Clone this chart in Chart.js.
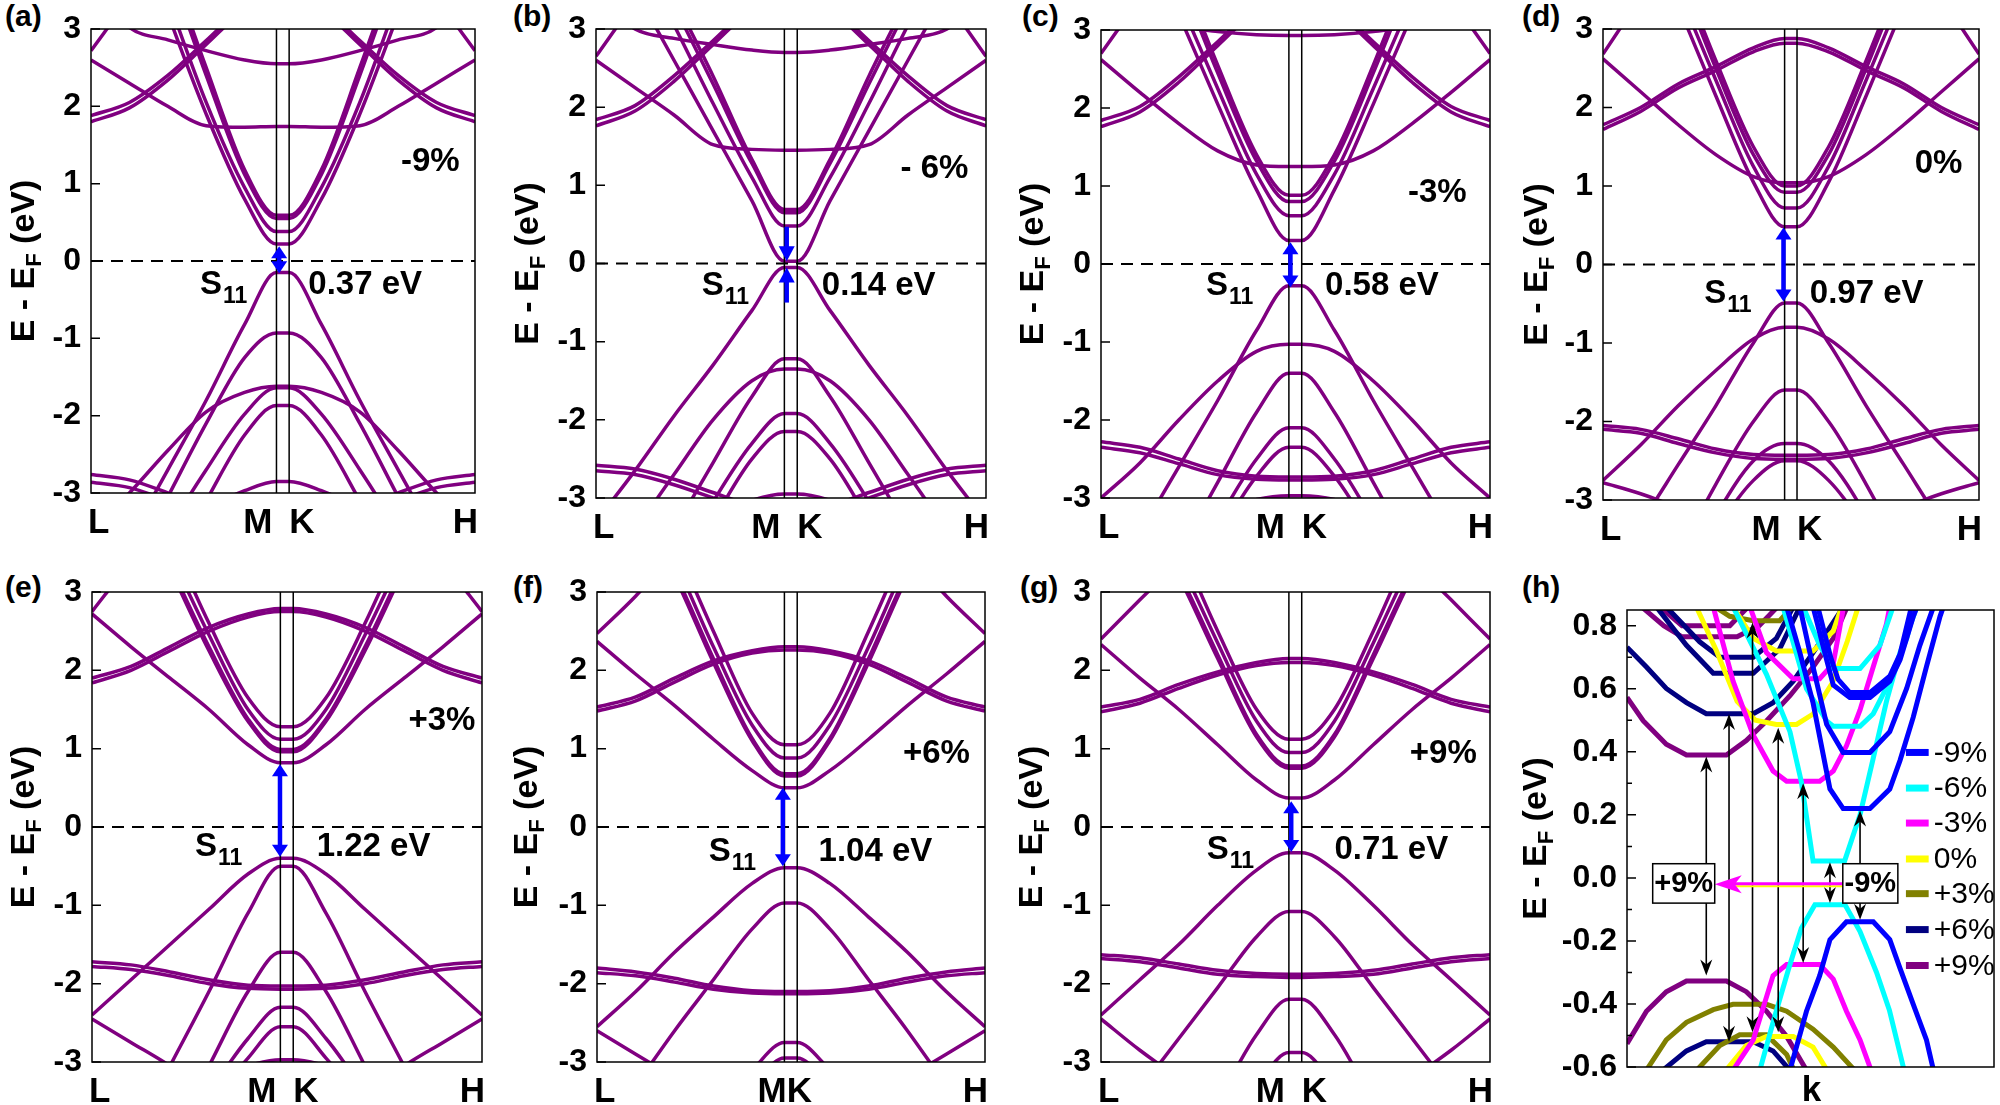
<!DOCTYPE html>
<html lang="en">
<head>
<meta charset="UTF-8">
<title>Band structures under strain</title>
<script src="https://cdn.jsdelivr.net/npm/chart.js@4.4.1/dist/chart.umd.min.js"></script>
<style>
  body { margin: 0; width: 2000px; height: 1105px; background: #fff; position: relative; overflow: hidden; }
  canvas { position: absolute; }
  .tag { position: absolute; font: bold 30px "Liberation Sans", Arial, sans-serif; line-height: 30px; color: #000; }
</style>
</head>
<body>
<div class="tag" style="left:5px;top:1px">(a)</div>
<div class="tag" style="left:513px;top:1px">(b)</div>
<div class="tag" style="left:1022px;top:1px">(c)</div>
<div class="tag" style="left:1522px;top:1px">(d)</div>
<div class="tag" style="left:5px;top:572px">(e)</div>
<div class="tag" style="left:513px;top:572px">(f)</div>
<div class="tag" style="left:1020px;top:572px">(g)</div>
<div class="tag" style="left:1522px;top:572px">(h)</div>

<script>
// ---- data ----
// k path L..M K..H as fractions, shared by the band panels
const kPts = [0, 0.1, 0.2, 0.3, 0.4, 0.483, 0.516, 0.6, 0.7, 0.8, 0.9, 1];
const kM = 0.483, kK = 0.516;
const yTicks = [-3, -2, -1, 0, 1, 2, 3];
const yTicksH = [-0.6, -0.4, -0.2, 0, 0.2, 0.4, 0.6, 0.8];
const strains = ['-9%', '- 6%', '-3%', '0%', '+3%', '+6%', '+9%'];
const gaps = ['0.37 eV', '0.14 eV', '0.58 eV', '0.97 eV', '1.22 eV', '1.04 eV', '0.71 eV'];

// band energies (eV) at kPts, one row per band
const bandsA = [
  [6.0, 4.6, 3.2, 1.9, 0.8, 0.22, 0.22, 0.8, 1.9, 3.2, 4.6, 6.0],
  [6.2, 4.8, 3.4, 2.05, 0.95, 0.38, 0.38, 0.95, 2.05, 3.4, 4.8, 6.2],
  [6.6, 5.2, 3.8, 2.4, 1.12, 0.55, 0.55, 1.12, 2.4, 3.8, 5.2, 6.6],
  [6.7, 5.3, 3.9, 2.5, 1.18, 0.59, 0.59, 1.18, 2.5, 3.9, 5.3, 6.7],
  [2.6, 2.3, 2.0, 1.75, 1.73, 1.74, 1.74, 1.73, 1.75, 2.0, 2.3, 2.6],
  [1.88, 2.05, 2.4, 2.85, 3.3, 3.5, 3.5, 3.3, 2.85, 2.4, 2.05, 1.88],
  [1.8, 1.98, 2.34, 2.8, 3.25, 3.45, 3.45, 3.25, 2.8, 2.34, 1.98, 1.8],
  [3.6, 3.02, 2.86, 2.72, 2.6, 2.55, 2.55, 2.6, 2.72, 2.86, 3.02, 3.6],
  [2.72, 3.4, 4.1, 4.8, 5.4, 5.6, 5.6, 5.4, 4.8, 4.1, 3.4, 2.72],
  [-4.5, -3.6, -2.7, -1.8, -0.82, -0.15, -0.15, -0.82, -1.8, -2.7, -3.6, -4.5],
  [-5.0, -4.0, -3.05, -2.1, -1.25, -0.93, -0.93, -1.25, -2.1, -3.05, -4.0, -5.0],
  [-3.5, -3.0, -2.45, -1.95, -1.7, -1.62, -1.62, -1.7, -1.95, -2.45, -3.0, -3.5],
  [-5.5, -4.5, -3.5, -2.7, -1.98, -1.64, -1.64, -1.98, -2.7, -3.5, -4.5, -5.5],
  [-6.0, -5.0, -4.0, -3.1, -2.25, -1.87, -1.87, -2.25, -3.1, -4.0, -5.0, -6.0],
  [-2.76, -2.83, -3.0, -3.2, -3.45, -3.55, -3.55, -3.45, -3.2, -3.0, -2.83, -2.76],
  [-2.86, -2.93, -3.1, -3.3, -3.55, -3.65, -3.65, -3.55, -3.3, -3.1, -2.93, -2.86],
  [-4.0, -3.8, -3.5, -3.2, -2.97, -2.85, -2.85, -2.97, -3.2, -3.5, -3.8, -4.0]
];
const bandsB = [
  [4.4, 3.5, 2.6, 1.7, 0.8, 0.03, 0.03, 0.8, 1.7, 2.6, 3.5, 4.4],
  [5.0, 4.0, 3.05, 2.05, 1.1, 0.48, 0.48, 1.1, 2.05, 3.05, 4.0, 5.0],
  [5.3, 4.3, 3.3, 2.3, 1.28, 0.65, 0.65, 1.28, 2.3, 3.3, 4.3, 5.3],
  [5.4, 4.4, 3.4, 2.4, 1.33, 0.69, 0.69, 1.33, 2.4, 3.4, 4.4, 5.4],
  [2.6, 2.25, 1.9, 1.52, 1.46, 1.45, 1.45, 1.46, 1.52, 1.9, 2.25, 2.6],
  [1.84, 2.02, 2.4, 2.85, 3.3, 3.5, 3.5, 3.3, 2.85, 2.4, 2.02, 1.84],
  [1.76, 1.95, 2.33, 2.8, 3.25, 3.45, 3.45, 3.25, 2.8, 2.33, 1.95, 1.76],
  [3.45, 3.0, 2.88, 2.8, 2.73, 2.7, 2.7, 2.73, 2.8, 2.88, 3.0, 3.45],
  [2.65, 3.35, 4.0, 4.7, 5.3, 5.5, 5.5, 5.3, 4.7, 4.0, 3.35, 2.65],
  [-3.3, -2.65, -1.95, -1.3, -0.6, -0.05, -0.05, -0.6, -1.3, -1.95, -2.65, -3.3],
  [-5.0, -4.2, -3.4, -2.55, -1.7, -1.22, -1.22, -1.7, -2.55, -3.4, -4.2, -5.0],
  [-4.0, -3.4, -2.7, -2.0, -1.5, -1.35, -1.35, -1.5, -2.0, -2.7, -3.4, -4.0],
  [-5.8, -4.9, -3.95, -3.05, -2.3, -1.92, -1.92, -2.3, -3.05, -3.95, -4.9, -5.8],
  [-6.0, -5.1, -4.2, -3.3, -2.5, -2.15, -2.15, -2.5, -3.3, -4.2, -5.1, -6.0],
  [-2.58, -2.63, -2.76, -2.93, -3.1, -3.2, -3.2, -3.1, -2.93, -2.76, -2.63, -2.58],
  [-2.65, -2.7, -2.83, -3.0, -3.18, -3.28, -3.28, -3.18, -3.0, -2.83, -2.7, -2.65],
  [-4.0, -3.8, -3.5, -3.25, -3.03, -2.95, -2.95, -3.03, -3.25, -3.5, -3.8, -4.0]
];
const bandsC = [
  [5.6, 4.4, 3.2, 2.05, 0.95, 0.3, 0.3, 0.95, 2.05, 3.2, 4.4, 5.6],
  [5.8, 4.6, 3.4, 2.25, 1.15, 0.62, 0.62, 1.15, 2.25, 3.4, 4.6, 5.8],
  [6.1, 4.9, 3.7, 2.45, 1.32, 0.8, 0.8, 1.32, 2.45, 3.7, 4.9, 6.1],
  [6.2, 5.0, 3.8, 2.55, 1.4, 0.88, 0.88, 1.4, 2.55, 3.8, 5.0, 6.2],
  [2.62, 2.2, 1.8, 1.45, 1.27, 1.25, 1.25, 1.27, 1.45, 1.8, 2.2, 2.62],
  [1.84, 2.02, 2.4, 2.85, 3.3, 3.5, 3.5, 3.3, 2.85, 2.4, 2.02, 1.84],
  [1.76, 1.95, 2.33, 2.8, 3.25, 3.45, 3.45, 3.25, 2.8, 2.33, 1.95, 1.76],
  [3.5, 3.2, 3.05, 2.98, 2.94, 2.93, 2.93, 2.94, 2.98, 3.05, 3.2, 3.5],
  [2.7, 3.4, 4.1, 4.8, 5.4, 5.6, 5.6, 5.4, 4.8, 4.1, 3.4, 2.7],
  [-4.3, -3.45, -2.6, -1.75, -0.85, -0.28, -0.28, -0.85, -1.75, -2.6, -3.45, -4.3],
  [-3.0, -2.55, -2.0, -1.5, -1.12, -1.03, -1.03, -1.12, -1.5, -2.0, -2.55, -3.0],
  [-5.5, -4.6, -3.7, -2.8, -1.9, -1.4, -1.4, -1.9, -2.8, -3.7, -4.6, -5.5],
  [-6.0, -5.0, -4.2, -3.3, -2.5, -2.1, -2.1, -2.5, -3.3, -4.2, -5.0, -6.0],
  [-6.0, -5.2, -4.4, -3.5, -2.72, -2.35, -2.35, -2.72, -3.5, -4.4, -5.2, -6.0],
  [-2.28, -2.35, -2.5, -2.65, -2.72, -2.73, -2.73, -2.72, -2.65, -2.5, -2.35, -2.28],
  [-2.35, -2.42, -2.56, -2.7, -2.76, -2.77, -2.77, -2.76, -2.7, -2.56, -2.42, -2.35],
  [-4.0, -3.7, -3.4, -3.2, -3.02, -2.97, -2.97, -3.02, -3.2, -3.4, -3.7, -4.0]
];
const bandsD = [
  [5.6, 4.4, 3.3, 2.15, 1.05, 0.48, 0.48, 1.05, 2.15, 3.3, 4.4, 5.6],
  [5.8, 4.6, 3.5, 2.35, 1.25, 0.72, 0.72, 1.25, 2.35, 3.5, 4.6, 5.8],
  [6.0, 4.8, 3.7, 2.5, 1.4, 0.92, 0.92, 1.4, 2.5, 3.7, 4.8, 6.0],
  [6.1, 4.9, 3.8, 2.6, 1.5, 1.0, 1.0, 1.5, 2.6, 3.8, 4.9, 6.1],
  [2.62, 2.2, 1.78, 1.4, 1.12, 1.04, 1.04, 1.12, 1.4, 1.78, 2.2, 2.62],
  [1.78, 2.0, 2.3, 2.52, 2.76, 2.88, 2.88, 2.76, 2.52, 2.3, 2.0, 1.78],
  [1.72, 1.95, 2.25, 2.47, 2.71, 2.82, 2.82, 2.71, 2.47, 2.25, 1.95, 1.72],
  [2.68, 3.4, 4.1, 4.8, 5.4, 5.6, 5.6, 5.4, 4.8, 4.1, 3.4, 2.68],
  [-4.0, -3.3, -2.55, -1.8, -1.0, -0.49, -0.49, -1.0, -1.8, -2.55, -3.3, -4.0],
  [-2.75, -2.3, -1.8, -1.35, -0.95, -0.8, -0.8, -0.95, -1.35, -1.8, -2.3, -2.75],
  [-5.5, -4.6, -3.7, -2.8, -2.0, -1.6, -1.6, -2.0, -2.8, -3.7, -4.6, -5.5],
  [-2.05, -2.1, -2.22, -2.35, -2.42, -2.43, -2.43, -2.42, -2.35, -2.22, -2.1, -2.05],
  [-2.1, -2.15, -2.28, -2.4, -2.47, -2.48, -2.48, -2.47, -2.4, -2.28, -2.15, -2.1],
  [-6.0, -5.0, -4.1, -3.2, -2.5, -2.28, -2.28, -2.5, -3.2, -4.1, -5.0, -6.0],
  [-6.0, -5.2, -4.3, -3.4, -2.75, -2.5, -2.5, -2.75, -3.4, -4.3, -5.2, -6.0],
  [-2.78, -2.92, -3.1, -3.3, -3.5, -3.6, -3.6, -3.5, -3.3, -3.1, -2.92, -2.78]
];
const bandsE = [
  [2.72, 2.3, 1.9, 1.5, 1.05, 0.82, 0.82, 1.05, 1.5, 1.9, 2.3, 2.72],
  [5.5, 4.4, 3.3, 2.25, 1.35, 0.96, 0.96, 1.35, 2.25, 3.3, 4.4, 5.5],
  [5.55, 4.45, 3.35, 2.3, 1.38, 0.99, 0.99, 1.38, 2.3, 3.35, 4.45, 5.55],
  [5.7, 4.6, 3.5, 2.45, 1.5, 1.12, 1.12, 1.5, 2.45, 3.5, 4.6, 5.7],
  [5.9, 4.8, 3.7, 2.6, 1.65, 1.28, 1.28, 1.65, 2.6, 3.7, 4.8, 5.9],
  [1.9, 2.05, 2.3, 2.55, 2.72, 2.79, 2.79, 2.72, 2.55, 2.3, 2.05, 1.9],
  [1.84, 2.0, 2.25, 2.5, 2.68, 2.75, 2.75, 2.68, 2.5, 2.25, 2.0, 1.84],
  [2.75, 3.4, 4.1, 4.8, 5.4, 5.6, 5.6, 5.4, 4.8, 4.1, 3.4, 2.75],
  [-2.4, -1.95, -1.5, -1.05, -0.6, -0.4, -0.4, -0.6, -1.05, -1.5, -1.95, -2.4],
  [-5.0, -4.0, -3.05, -2.1, -1.1, -0.5, -0.5, -1.1, -2.1, -3.05, -4.0, -5.0],
  [-6.0, -5.0, -4.0, -3.05, -2.1, -1.6, -1.6, -2.1, -3.05, -4.0, -5.0, -6.0],
  [-1.72, -1.76, -1.85, -1.95, -2.02, -2.03, -2.03, -2.02, -1.95, -1.85, -1.76, -1.72],
  [-1.78, -1.82, -1.9, -2.0, -2.06, -2.07, -2.07, -2.06, -2.0, -1.9, -1.82, -1.78],
  [-6.0, -5.0, -4.2, -3.4, -2.7, -2.3, -2.3, -2.7, -3.4, -4.2, -5.0, -6.0],
  [-6.0, -5.2, -4.4, -3.6, -2.95, -2.55, -2.55, -2.95, -3.6, -4.4, -5.2, -6.0],
  [-2.45, -2.75, -3.05, -3.4, -3.7, -3.8, -3.8, -3.7, -3.4, -3.05, -2.75, -2.45],
  [-4.0, -3.8, -3.5, -3.25, -3.05, -2.97, -2.97, -3.05, -3.25, -3.5, -3.8, -4.0]
];
const bandsF = [
  [2.37, 1.95, 1.55, 1.12, 0.72, 0.5, 0.5, 0.72, 1.12, 1.55, 1.95, 2.37],
  [5.0, 4.1, 3.2, 2.1, 1.1, 0.65, 0.65, 1.1, 2.1, 3.2, 4.1, 5.0],
  [5.05, 4.15, 3.25, 2.15, 1.13, 0.68, 0.68, 1.13, 2.15, 3.25, 4.15, 5.05],
  [5.2, 4.3, 3.4, 2.3, 1.3, 0.88, 0.88, 1.3, 2.3, 3.4, 4.3, 5.2],
  [5.4, 4.5, 3.6, 2.5, 1.45, 1.05, 1.05, 1.45, 2.5, 3.6, 4.5, 5.4],
  [1.53, 1.66, 1.9, 2.12, 2.25, 2.3, 2.3, 2.25, 2.12, 1.9, 1.66, 1.53],
  [1.48, 1.61, 1.85, 2.08, 2.22, 2.26, 2.26, 2.22, 2.08, 1.85, 1.61, 1.48],
  [2.47, 2.95, 3.5, 4.1, 4.7, 4.9, 4.9, 4.7, 4.1, 3.5, 2.95, 2.47],
  [-2.55, -2.1, -1.6, -1.15, -0.72, -0.52, -0.52, -0.72, -1.15, -1.6, -2.1, -2.55],
  [-4.0, -3.3, -2.6, -1.95, -1.3, -0.97, -0.97, -1.3, -1.95, -2.6, -3.3, -4.0],
  [-1.8, -1.85, -1.93, -2.03, -2.09, -2.1, -2.1, -2.09, -2.03, -1.93, -1.85, -1.8],
  [-1.86, -1.9, -1.98, -2.07, -2.12, -2.13, -2.13, -2.12, -2.07, -1.98, -1.9, -1.86],
  [-6.0, -5.0, -4.2, -3.6, -3.1, -2.75, -2.75, -3.1, -3.6, -4.2, -5.0, -6.0],
  [-6.0, -5.5, -4.5, -3.8, -3.3, -2.95, -2.95, -3.3, -3.8, -4.5, -5.5, -6.0],
  [-2.6, -2.9, -3.2, -3.5, -3.8, -3.9, -3.9, -3.8, -3.5, -3.2, -2.9, -2.6]
];
const bandsG = [
  [2.33, 1.9, 1.5, 1.05, 0.6, 0.37, 0.37, 0.6, 1.05, 1.5, 1.9, 2.33],
  [5.0, 4.1, 3.2, 2.15, 1.15, 0.75, 0.75, 1.15, 2.15, 3.2, 4.1, 5.0],
  [5.05, 4.15, 3.25, 2.2, 1.18, 0.78, 0.78, 1.18, 2.2, 3.25, 4.15, 5.05],
  [5.2, 4.3, 3.4, 2.35, 1.35, 0.95, 0.95, 1.35, 2.35, 3.4, 4.3, 5.2],
  [5.4, 4.5, 3.6, 2.5, 1.5, 1.12, 1.12, 1.5, 2.5, 3.6, 4.5, 5.4],
  [1.53, 1.63, 1.82, 1.98, 2.1, 2.15, 2.15, 2.1, 1.98, 1.82, 1.63, 1.53],
  [1.47, 1.58, 1.77, 1.94, 2.06, 2.1, 2.1, 2.06, 1.94, 1.77, 1.58, 1.47],
  [2.4, 2.9, 3.4, 4.0, 4.6, 4.8, 4.8, 4.6, 4.0, 3.4, 2.9, 2.4],
  [-2.4, -1.95, -1.5, -1.0, -0.55, -0.33, -0.33, -0.55, -1.0, -1.5, -1.95, -2.4],
  [-4.0, -3.35, -2.7, -2.05, -1.4, -1.08, -1.08, -1.4, -2.05, -2.7, -3.35, -4.0],
  [-1.63, -1.67, -1.75, -1.83, -1.87, -1.88, -1.88, -1.87, -1.83, -1.75, -1.67, -1.63],
  [-1.68, -1.72, -1.8, -1.88, -1.91, -1.92, -1.92, -1.91, -1.88, -1.8, -1.72, -1.68],
  [-6.0, -5.0, -4.3, -3.5, -2.65, -2.2, -2.2, -2.65, -3.5, -4.3, -5.0, -6.0],
  [-6.0, -5.5, -4.6, -3.9, -3.3, -2.88, -2.88, -3.3, -3.9, -4.6, -5.5, -6.0],
  [-2.45, -2.85, -3.2, -3.5, -3.8, -3.9, -3.9, -3.8, -3.5, -3.2, -2.85, -2.45]
];

// panel (h): band edges near the gap, [k, E] points, one list per curve
const hM9 = [
  [[0.435,0.86],[0.471,0.715],[0.507,0.555],[0.553,0.282],[0.589,0.22],[0.662,0.22],[0.716,0.282],[0.744,0.373],[0.78,0.51],[0.816,0.67],[0.853,0.83],[0.862,0.86]],
  [[0.471,0.86],[0.507,0.669],[0.544,0.487],[0.589,0.398],[0.662,0.398],[0.716,0.464],[0.762,0.601],[0.798,0.738],[0.835,0.86]],
  [[0.507,0.86],[0.544,0.692],[0.562,0.612],[0.607,0.572],[0.662,0.572],[0.716,0.624],[0.744,0.692],[0.78,0.829],[0.79,0.86]],
  [[0.52,0.86],[0.555,0.7],[0.575,0.63],[0.607,0.588],[0.662,0.588],[0.716,0.64],[0.744,0.71],[0.775,0.86]],
  [[0.444,-0.61],[0.489,-0.423],[0.525,-0.31],[0.553,-0.196],[0.598,-0.139],[0.671,-0.139],[0.716,-0.196],[0.744,-0.287],[0.78,-0.401],[0.816,-0.514],[0.835,-0.61]]
];
const hM6 = [
  [[0.289,0.86],[0.38,0.646],[0.444,0.464],[0.475,0.305],[0.507,0.054],[0.593,0.054],[0.635,0.2],[0.671,0.38],[0.707,0.56],[0.744,0.715],[0.79,0.86]],
  [[0.425,0.86],[0.489,0.6],[0.544,0.498],[0.562,0.481],[0.635,0.481],[0.671,0.521],[0.716,0.624],[0.762,0.76],[0.785,0.86]],
  [[0.48,0.86],[0.525,0.738],[0.562,0.664],[0.635,0.664],[0.689,0.738],[0.725,0.86]],
  [[0.362,-0.61],[0.4,-0.45],[0.44,-0.29],[0.475,-0.16],[0.512,-0.085],[0.594,-0.085],[0.635,-0.17],[0.68,-0.3],[0.715,-0.42],[0.755,-0.61]]
];
const hM3 = [
  [[0.235,0.86],[0.289,0.624],[0.344,0.453],[0.398,0.339],[0.435,0.307],[0.525,0.307],[0.562,0.339],[0.598,0.419],[0.635,0.533],[0.671,0.67],[0.707,0.806],[0.716,0.86]],
  [[0.335,0.86],[0.38,0.715],[0.453,0.632],[0.525,0.632],[0.562,0.68],[0.59,0.86]],
  [[0.289,-0.61],[0.344,-0.514],[0.398,-0.31],[0.435,-0.275],[0.525,-0.275],[0.562,-0.321],[0.598,-0.423],[0.635,-0.514],[0.665,-0.61]]
];
const hZero = [
  [[0.189,0.86],[0.244,0.72],[0.3,0.56],[0.35,0.5],[0.407,0.487],[0.462,0.487],[0.507,0.52],[0.56,0.62],[0.6,0.75],[0.63,0.86]],
  [[0.289,0.86],[0.344,0.76],[0.407,0.72],[0.507,0.72],[0.562,0.783],[0.585,0.86]],
  [[0.27,-0.61],[0.325,-0.532],[0.38,-0.503],[0.453,-0.503],[0.507,-0.537],[0.545,-0.61]]
];
const hP3 = [
  [[0.24,0.86],[0.28,0.83],[0.344,0.816],[0.416,0.816],[0.45,0.86]],
  [[0.053,-0.61],[0.107,-0.514],[0.162,-0.458],[0.235,-0.418],[0.289,-0.401],[0.38,-0.401],[0.435,-0.423],[0.507,-0.48],[0.562,-0.537],[0.62,-0.61]],
  [[0.19,-0.61],[0.253,-0.532],[0.307,-0.498],[0.38,-0.498],[0.435,-0.56],[0.455,-0.61]]
];
const hP6 = [
  [[0,0.732],[0.053,0.669],[0.107,0.601],[0.162,0.556],[0.216,0.521],[0.344,0.521],[0.398,0.556],[0.453,0.624],[0.507,0.715],[0.562,0.811],[0.59,0.86]],
  [[0.08,0.86],[0.162,0.738],[0.235,0.649],[0.344,0.649],[0.416,0.726],[0.471,0.86]],
  [[0.107,0.86],[0.198,0.749],[0.253,0.7],[0.344,0.7],[0.407,0.76],[0.453,0.86]],
  [[0.098,-0.61],[0.162,-0.549],[0.216,-0.52],[0.344,-0.52],[0.398,-0.549],[0.444,-0.61]]
];
const hP9 = [
  [[0,0.573],[0.044,0.499],[0.107,0.424],[0.162,0.39],[0.271,0.39],[0.325,0.436],[0.38,0.498],[0.444,0.578],[0.507,0.669],[0.562,0.76],[0.6,0.86]],
  [[0.04,0.86],[0.1,0.8],[0.15,0.765],[0.3,0.765],[0.36,0.8],[0.41,0.86]],
  [[0.09,0.86],[0.15,0.8],[0.28,0.8],[0.33,0.86]],
  [[0,-0.526],[0.053,-0.423],[0.107,-0.361],[0.162,-0.327],[0.271,-0.327],[0.325,-0.361],[0.38,-0.423],[0.435,-0.503],[0.489,-0.61]]
];
const hSeries = [hM9, hM6, hM3, hZero, hP3, hP6, hP9];
const hLabels = ['-9%', '-6%', '-3%', '0%', '+3%', '+6%', '+9%'];
const hColors = ['#0000ff', '#00ffff', '#ff00ff', '#ffff00', '#808000', '#000080', '#800080'];
// gap arrows in (h): [k, VB edge, CB edge]
const hGaps = [[0.216,-0.31,0.385],[0.278,-0.52,0.52],[0.342,-0.49,0.81],[0.412,-0.49,0.476],[0.48,-0.27,0.30],[0.553,-0.08,0.05],[0.635,-0.133,0.214]];

// ---- drawing ----
const FF = '"Liberation Sans", Arial, sans-serif';
const PURPLE = '#800080';
const specs = new WeakMap();

function drawTitle(ctx, cx, cy) {
  ctx.save();
  ctx.translate(cx, cy);
  ctx.rotate(-Math.PI / 2);
  const f1 = 'bold 34px ' + FF, f2 = 'bold 22px ' + FF;
  ctx.font = f1;
  const w1 = ctx.measureText('E - E').width, w3 = ctx.measureText(' (eV)').width;
  ctx.font = f2;
  const w2 = ctx.measureText('F').width;
  let x = -(w1 + w2 + w3) / 2;
  ctx.textAlign = 'left'; ctx.textBaseline = 'alphabetic'; ctx.fillStyle = '#000';
  ctx.font = f1; ctx.fillText('E - E', x, 12); x += w1;
  ctx.font = f2; ctx.fillText('F', x, 19); x += w2;
  ctx.font = f1; ctx.fillText(' (eV)', x, 12);
  ctx.restore();
}

function head(ctx, x, tip, dir, w, l, notch) { // dir -1 points up, +1 points down
  ctx.beginPath();
  ctx.moveTo(x, tip);
  ctx.lineTo(x - w, tip - dir * l);
  ctx.lineTo(x, tip - dir * (l - notch));
  ctx.lineTo(x + w, tip - dir * l);
  ctx.closePath();
  ctx.fill();
}

function seg(ctx, x1, y1, x2, y2) {
  ctx.beginPath(); ctx.moveTo(x1, y1); ctx.lineTo(x2, y2); ctx.stroke();
}

function drawBandDeco(ctx, p, X, Y, A) {
  ctx.fillStyle = '#0000ff'; ctx.strokeStyle = '#0000ff'; ctx.lineWidth = 4.5;
  if (p.arrow) {
    const [ax, lo, hi] = p.arrow, x = X(ax);
    seg(ctx, x, Y(hi) + 8, x, Y(lo) - 8);
    head(ctx, x, Y(hi), -1, 8, 12, 0);
    head(ctx, x, Y(lo), 1, 8, 12, 0);
  }
  if (p.split) {
    const [ax, t1, h1, t2, h2] = p.split, x = X(ax);
    seg(ctx, x, Y(t1), x, Y(h1) - 10);
    head(ctx, x, Y(h1), 1, 8, 15, 0);
    seg(ctx, x, Y(t2), x, Y(h2) + 10);
    head(ctx, x, Y(h2), -1, 8, 15, 0);
  }
  ctx.fillStyle = '#000';
  ctx.textBaseline = 'alphabetic';
  ctx.textAlign = 'left';
  ctx.font = 'bold 33px ' + FF;
  const sx = X(p.sAt[0]), sy = Y(p.sAt[1]);
  ctx.fillText('S', sx, sy);
  const ws = ctx.measureText('S').width;
  ctx.font = 'bold 23px ' + FF;
  ctx.fillText('11', sx + ws + 1, sy + 9);
  ctx.font = 'bold 33px ' + FF;
  ctx.fillText(p.gap, X(p.gapX), sy);
  ctx.textAlign = 'right';
  ctx.fillText(p.strain, X(p.tagAt[0]), Y(p.tagAt[1]));
  // k-point labels
  ctx.font = 'bold 35px ' + FF;
  const by = A.bottom + 40;
  ctx.textAlign = 'left'; ctx.fillText('L', A.left - 3, by);
  ctx.textAlign = 'right'; ctx.fillText('H', A.right + 3, by);
  if (p.mk) {
    ctx.textAlign = 'center'; ctx.fillText('MK', (X(kM) + X(kK)) / 2 - 6, by);
  } else {
    ctx.textAlign = 'right'; ctx.fillText('M', X(kM) - 4, by);
    ctx.textAlign = 'left'; ctx.fillText('K', X(kK), by);
  }
}

function drawCompareDeco(ctx, p, X, Y, A) {
  // gap arrows
  ctx.strokeStyle = '#000'; ctx.fillStyle = '#000'; ctx.lineWidth = 1.6;
  hGaps.forEach(([k, lo, hi]) => {
    const x = X(k);
    seg(ctx, x, Y(hi) + 8, x, Y(lo) - 8);
    head(ctx, x, Y(hi), -1, 6, 16, 5);
    head(ctx, x, Y(lo), 1, 6, 16, 5);
  });
  // magenta arrow from -9% box to +9% box
  const ay = Y(-0.02), x1 = X(0.588), x2 = X(0.239);
  ctx.strokeStyle = '#ffff00'; ctx.lineWidth = 2;
  seg(ctx, x1, ay + 2, x2 + 20, ay + 2);
  ctx.strokeStyle = '#ff00ff'; ctx.lineWidth = 3;
  seg(ctx, x1, ay - 0.5, x2 + 18, ay - 0.5);
  ctx.fillStyle = '#ff00ff';
  ctx.beginPath();
  ctx.moveTo(x2, ay); ctx.lineTo(x2 + 27, ay - 9); ctx.lineTo(x2 + 20, ay); ctx.lineTo(x2 + 27, ay + 9);
  ctx.closePath(); ctx.fill();
  // boxes
  [['+9%', 0.07, 0.239], ['-9%', 0.588, 0.738]].forEach(([t, k1, k2]) => {
    const bx = X(k1), bw = X(k2) - X(k1), byT = Y(0.045), bh = Y(-0.08) - Y(0.045);
    ctx.fillStyle = '#fff'; ctx.fillRect(bx, byT, bw, bh);
    ctx.strokeStyle = '#000'; ctx.lineWidth = 1.5; ctx.strokeRect(bx, byT, bw, bh);
    ctx.fillStyle = '#000'; ctx.font = 'bold 29px ' + FF;
    ctx.textAlign = 'center'; ctx.textBaseline = 'middle';
    ctx.fillText(t, bx + bw / 2, byT + bh / 2 + 1);
  });
  // legend
  const legE = [0.398, 0.285, 0.174, 0.06, -0.05, -0.164, -0.278];
  ctx.font = '30px ' + FF; ctx.textAlign = 'left'; ctx.textBaseline = 'middle';
  hLabels.forEach((t, i) => {
    const y = Y(legE[i]);
    ctx.strokeStyle = hColors[i]; ctx.lineWidth = 7;
    seg(ctx, X(0.76), y, X(0.822), y);
    ctx.fillStyle = '#000';
    ctx.fillText(t, X(0.836), y + 1);
  });
  ctx.font = 'bold 35px ' + FF; ctx.textAlign = 'center'; ctx.textBaseline = 'alphabetic';
  ctx.fillText('k', X(0.503), A.bottom + 34);
}

const deco = {
  id: 'deco',
  afterDraw(chart) {
    const p = specs.get(chart.canvas);
    const ctx = chart.ctx, A = chart.chartArea;
    const X = v => chart.scales.x.getPixelForValue(v);
    const Y = v => chart.scales.y.getPixelForValue(v);
    ctx.save();
    ctx.strokeStyle = '#000'; ctx.lineWidth = 1.5;
    ctx.strokeRect(A.left, A.top, A.right - A.left, A.bottom - A.top);
    ctx.beginPath();
    p.ticks.forEach(v => { ctx.moveTo(A.left, Y(v)); ctx.lineTo(A.left + 9, Y(v)); });
    (p.minor || []).forEach(v => { ctx.moveTo(A.left, Y(v)); ctx.lineTo(A.left + 5, Y(v)); });
    ctx.stroke();
    drawTitle(ctx, A.left + p.titleDx, (A.top + A.bottom) / 2);
    if (p.kind === 'band') drawBandDeco(ctx, p, X, Y, A);
    else drawCompareDeco(ctx, p, X, Y, A);
    ctx.restore();
  }
};

function makeChart(p, datasets) {
  const padT = 30, padR = 8, padB = 46;
  const [l, t, r, b] = p.rect;
  const W = r - l + p.padL + padR, H = b - t + padT + padB;
  const cv = document.createElement('canvas');
  cv.width = W; cv.height = H;
  cv.style.left = (l - p.padL) + 'px'; cv.style.top = (t - padT) + 'px';
  cv.style.width = W + 'px'; cv.style.height = H + 'px';
  document.body.appendChild(cv);
  specs.set(cv, p);
  return new Chart(cv, {
    type: 'line',
    data: { datasets },
    options: {
      responsive: false, animation: false, devicePixelRatio: 1, events: [],
      layout: { padding: { left: 0, top: padT, right: padR, bottom: padB } },
      plugins: { legend: { display: false }, tooltip: { enabled: false } },
      scales: {
        x: { type: 'linear', min: 0, max: 1, display: false },
        y: {
          type: 'linear', min: p.ymin, max: p.ymax,
          afterFit: s => { s.width = p.padL; },
          afterBuildTicks: s => { s.ticks = p.ticks.map(v => ({ value: v })); },
          ticks: {
            autoSkip: false, padding: 10, color: '#000',
            font: { family: FF, size: 32, weight: 'bold' },
            callback: p.fmt
          },
          grid: { display: false, drawTicks: false },
          border: { display: false }
        }
      }
    },
    plugins: [deco]
  });
}

function bandDatasets(bands) {
  const ds = bands.map(b => ({
    data: kPts.map((k, i) => ({ x: k, y: b[i] })),
    borderColor: PURPLE, borderWidth: 3.5, pointRadius: 0,
    cubicInterpolationMode: 'monotone', order: 2
  }));
  ds.push({ data: [{ x: 0, y: 0 }, { x: 1, y: 0 }], borderColor: '#000', borderWidth: 2,
            borderDash: [12, 8], pointRadius: 0, order: 1 });
  [kM, kK].forEach(k => ds.push({ data: [{ x: k, y: -3 }, { x: k, y: 3 }],
            borderColor: '#000', borderWidth: 1.5, pointRadius: 0, order: 1 }));
  return ds;
}

const panels = [
  { rect: [91, 29, 475, 493], bands: bandsA, titleDx: -69, sAt: [0.284, -0.43], gapX: 0.566, tagAt: [0.96, 1.17], arrow: [0.49, -0.16, 0.19] },
  { rect: [596, 29, 986, 498], bands: bandsB, titleDx: -70, sAt: [0.271, -0.40], gapX: 0.579, tagAt: [0.955, 1.09], split: [0.489, 0.47, 0.03, -0.5, -0.05] },
  { rect: [1101, 30, 1490, 498], bands: bandsC, titleDx: -70, sAt: [0.27, -0.40], gapX: 0.576, tagAt: [0.94, 0.79], arrow: [0.487, -0.3, 0.28] },
  { rect: [1603, 29, 1979, 500], bands: bandsD, titleDx: -68, sAt: [0.269, -0.49], gapX: 0.55, tagAt: [0.956, 1.17], arrow: [0.48, -0.47, 0.47] },
  { rect: [92, 592, 482, 1062], bands: bandsE, titleDx: -70, sAt: [0.264, -0.37], gapX: 0.576, tagAt: [0.983, 1.24], arrow: [0.482, -0.38, 0.8] },
  { rect: [597, 592, 985, 1062], bands: bandsF, titleDx: -72, sAt: [0.288, -0.44], gapX: 0.571, tagAt: [0.961, 0.82], arrow: [0.479, -0.5, 0.5], mk: true },
  { rect: [1101, 592, 1490, 1062], bands: bandsG, titleDx: -71, sAt: [0.272, -0.41], gapX: 0.60, tagAt: [0.966, 0.82], arrow: [0.489, -0.32, 0.33] }
];

panels.forEach((p, i) => {
  Object.assign(p, { kind: 'band', padL: 95, ymin: -3, ymax: 3, ticks: yTicks,
                     fmt: v => String(v), strain: strains[i], gap: gaps[i] });
  makeChart(p, bandDatasets(p.bands));
});

// panel (h)
const hData = [];
hSeries.forEach((curves, i) => curves.forEach(c => hData.push({
  data: c.map(([x, y]) => ({ x, y })),
  borderColor: hColors[i], borderWidth: 5, pointRadius: 0, tension: 0
})));
makeChart({
  kind: 'compare', rect: [1627, 610, 1994, 1067], padL: 125, titleDx: -93,
  ymin: -0.6, ymax: 0.85, ticks: yTicksH,
  minor: [-0.5, -0.3, -0.1, 0.1, 0.3, 0.5, 0.7],
  fmt: v => v.toFixed(1)
}, hData);
</script>
</body>
</html>
